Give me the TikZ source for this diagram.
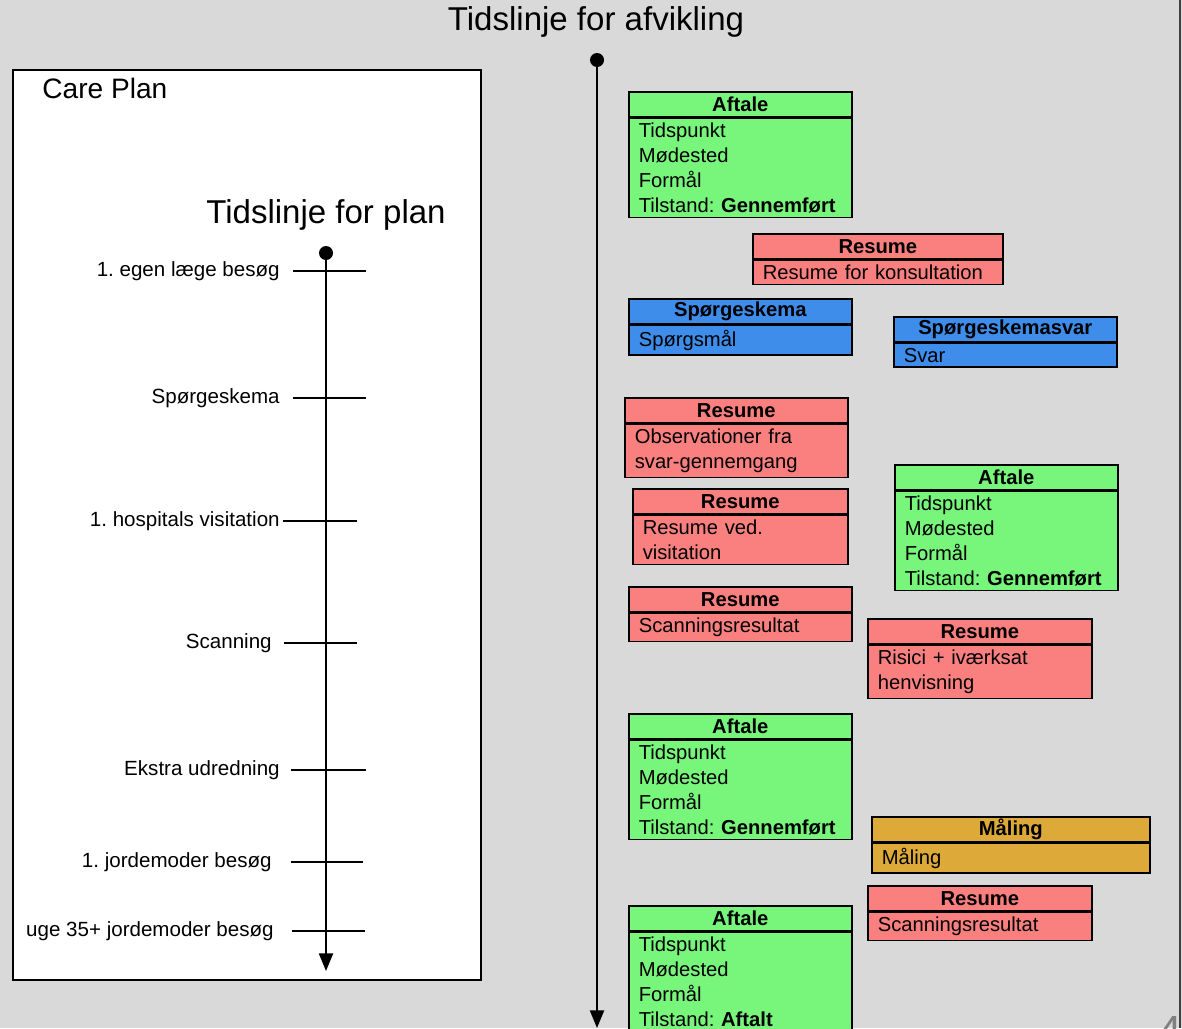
\documentclass[tikz,border=0pt]{standalone}
\usepackage{fontspec}
\setmainfont{Liberation Sans}
\usetikzlibrary{arrows.meta}
\frenchspacing

\definecolor{bggray}{RGB}{217,217,217}
\definecolor{aftgreen}{RGB}{120,246,124}
\definecolor{resred}{RGB}{250,128,127}
\definecolor{spblue}{RGB}{62,141,234}
\definecolor{maalgold}{RGB}{221,169,56}

% name, x, y, width (px), colour, title, body
\newcommand{\boks}[7]{%
  \pgfmathsetmacro\boxw{#4*0.02}%
  \pgfmathsetmacro\bodyw{#4*0.02-0.4}%
  \node[head, fill=#5, minimum width=\boxw cm] (#1) at (#2,#3) {#6};
  \node[body, fill=#5, text width=\bodyw cm] (#1-body) at (#1.south west) {#7};
}

\begin{document}
\begin{tikzpicture}[x=0.02cm, y=-0.02cm,
	head/.style={draw, line width=0.9pt, anchor=north west, minimum height=0.5cm, inner sep=0pt, font=\fontsize{11.5}{14}\selectfont\bfseries},
	body/.style={draw, line width=0.9pt, anchor=north west, align=left, inner xsep=0.2cm, inner ysep=2.6pt, font=\fontsize{11.5}{14.2}\selectfont},
	dot/.style={circle, fill=black, inner sep=0pt, minimum size=0.28cm},
	tick/.style={font=\fontsize{11.7}{14}\selectfont, anchor=east, inner sep=0pt},
	>={Triangle[width=8pt, length=10pt]}]
	\fill [bggray] (0,0) rectangle (1182,1028);
	\useasboundingbox (0,0) rectangle (1182,1028);
	\draw [line width=1.2pt, black!75] (1180,0) -- (1180,1028);
	\node [gray, font=\fontsize{24}{24}\selectfont, anchor=base west, inner sep=0pt] (side) at (1158,1045) {4};

	% care plan
	\draw [line width=1.1pt, fill=white] (13,70) rectangle (481,980);
	\node [anchor=west, inner sep=0pt, font=\fontsize{16}{18}\selectfont] (cp) at (42,88) {Care Plan};
	\node [font=\fontsize{18.8}{22}\selectfont, inner sep=0pt] (plantitle) at (326,215) {Tidslinje for plan};
	\node [dot] (pstart) at (326,253) {};
	\coordinate (pend) at (326,971);
	\draw [line width=1pt, ->] (pstart.center) -- (pend);
	\foreach \y/\xl/\xa/\xb/\lbl [count=\i] in {271/280/293/366/{1. egen læge besøg},
		398/280/293/366/{Spørgeskema},
		521/280/283/357/{1. hospitals visitation},
		643/272/284/357/{Scanning},
		770/280/291/366/{Ekstra udredning},
		862/272/291/363/{1. jordemoder besøg},
		931/274/292/365/{uge 35+ jordemoder besøg}} {
		\node [tick] (p\i) at (\xl,\y) {\lbl};
		\draw [line width=1pt] (\xa,\y) -- (\xb,\y);
	}

	% afvikling
	\node [font=\fontsize{18.8}{22}\selectfont, inner sep=0pt] (title) at (596,22) {Tidslinje for afvikling};
	\node [dot] (astart) at (597,60) {};
	\coordinate (aend) at (597,1028);
	\draw [line width=1pt, ->] (astart.center) -- (aend);

	\boks{a1}{628}{91}{223}{aftgreen}{Aftale}{Tidspunkt\\Mødested\\Formål\\Tilstand: \textbf{Gennemført}}
	\boks{r1}{752}{233}{250}{resred}{Resume}{Resume for konsultation}
	\boks{s1}{628}{298}{223}{spblue}{Spørgeskema}{Spørgsmål}
	\boks{s2}{893}{316}{223}{spblue}{Spørgeskemasvar}{Svar}
	\boks{r2}{624}{397}{223}{resred}{Resume}{Observationer fra\\svar-gennemgang}
	\boks{a2}{894}{464}{223}{aftgreen}{Aftale}{Tidspunkt\\Mødested\\Formål\\Tilstand: \textbf{Gennemført}}
	\boks{r3}{632}{488}{215}{resred}{Resume}{Resume ved.\\visitation}
	\boks{r4}{628}{586}{223}{resred}{Resume}{Scanningsresultat}
	\boks{r5}{867}{618}{224}{resred}{Resume}{Risici + iværksat\\henvisning}
	\boks{a3}{628}{713}{223}{aftgreen}{Aftale}{Tidspunkt\\Mødested\\Formål\\Tilstand: \textbf{Gennemført}}
	\boks{m1}{871}{816}{278}{maalgold}{Måling}{Måling}
	\boks{r6}{867}{885}{224}{resred}{Resume}{Scanningsresultat}
	\boks{a4}{628}{905}{223}{aftgreen}{Aftale}{Tidspunkt\\Mødested\\Formål\\Tilstand: \textbf{Aftalt}}
\end{tikzpicture}
\end{document}
